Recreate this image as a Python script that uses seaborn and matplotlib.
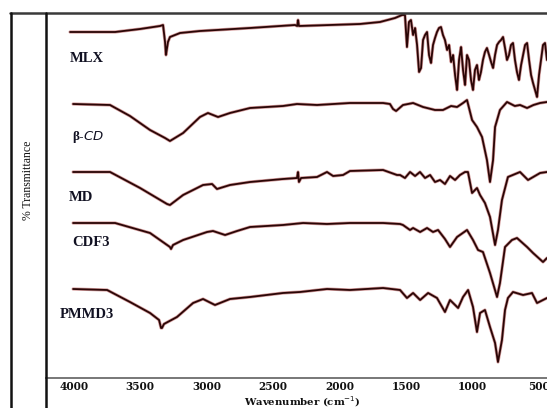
import numpy as np
import pandas as pd
import matplotlib
matplotlib.use("Agg")
import matplotlib.pyplot as plt
import matplotlib.patheffects as pe
from matplotlib.lines import Line2D
import seaborn as sns

# FTIR spectra (wavenumber in cm^-1, stacked transmittance in arbitrary units)
mlx_wn = [4028, 3689, 3501, 3351, 3328, 3313, 3306, 3291, 3276, 3200,
          3050, 2673, 2335, 2318, 2312, 2305, 2071, 1846, 1695, 1582,
          1529, 1507, 1492, 1477, 1462, 1446, 1431, 1416, 1401, 1386,
          1371, 1356, 1341, 1326, 1311, 1296, 1281, 1266, 1251, 1236,
          1221, 1206, 1190, 1175, 1160, 1145, 1130, 1115, 1100, 1085,
          1070, 1055, 1040, 1025, 1010, 995, 980, 965, 950, 935,
          920, 905, 890, 874, 859, 844, 829, 814, 799, 784,
          769, 754, 739, 724, 709, 694, 679, 664, 649, 633,
          618, 603, 588, 573, 558, 543, 528, 513, 498, 483,
          468, 453, 438]
mlx_t = [345, 345, 348, 351, 352, 335, 322, 335, 340, 344,
         346, 349, 352, 351, 357, 351, 352, 353, 355, 359,
         362, 362, 330, 355, 357, 342, 349, 332, 305, 309,
         337, 342, 345, 322, 314, 332, 339, 345, 349, 350,
         342, 337, 327, 332, 315, 322, 302, 287, 317, 330,
         307, 292, 322, 317, 297, 287, 307, 312, 297, 305,
         317, 325, 329, 322, 315, 309, 322, 332, 335, 337,
         340, 329, 317, 322, 332, 334, 317, 305, 297, 312,
         322, 332, 334, 317, 302, 294, 287, 280, 302, 317,
         332, 334, 317]

bcd_wn = [4005, 3727, 3577, 3426, 3313, 3276, 3177, 3050, 2990, 2914,
          2824, 2673, 2425, 2320, 2169, 1921, 1672, 1620, 1597, 1574,
          1522, 1446, 1371, 1281, 1221, 1160, 1115, 1070, 1040, 1002,
          965, 927, 890, 867, 844, 829, 792, 739, 680, 641,
          588, 540, 490, 438]
bcd_t = [273, 272, 261, 247, 239, 236, 244, 260, 264, 260,
         264, 269, 271, 273, 272, 274, 274, 273, 268, 266,
         272, 274, 270, 267, 267, 271, 270, 274, 277, 257,
         250, 240, 217, 195, 217, 250, 267, 275, 271, 272,
         269, 272, 274, 275]

md_wn = [4005, 3727, 3501, 3298, 3276, 3177, 3027, 2959, 2922, 2824,
         2673, 2425, 2320, 2312, 2305, 2289, 2169, 2094, 2048, 1973,
         1921, 1672, 1567, 1544, 1507, 1469, 1431, 1394, 1356, 1318,
         1281, 1243, 1206, 1168, 1130, 1093, 1055, 1033, 1002, 965,
         942, 905, 867, 829, 807, 777, 732, 641, 581, 490,
         438]
md_t = [205, 205, 189, 173, 172, 182, 192, 193, 188, 192,
        195, 198, 199, 205, 195, 199, 200, 205, 201, 202,
        206, 207, 202, 202, 199, 205, 201, 205, 199, 202,
        195, 197, 193, 201, 197, 202, 205, 205, 184, 189,
        182, 174, 160, 132, 147, 177, 200, 205, 197, 204,
        205]

cdf_wn = [4005, 3689, 3426, 3276, 3268, 3253, 3177, 2997, 2952, 2861,
          2771, 2673, 2425, 2274, 2094, 1921, 1672, 1544, 1522, 1469,
          1446, 1393, 1341, 1296, 1258, 1206, 1168, 1115, 1040, 995,
          957, 920, 867, 814, 792, 754, 702, 664, 588, 543,
          468, 438]
cdf_t = [154, 154, 144, 130, 128, 132, 137, 145, 146, 142,
         146, 150, 152, 154, 153, 154, 154, 153, 152, 147,
         149, 145, 149, 145, 147, 138, 130, 140, 147, 137,
         127, 125, 104, 80, 94, 130, 137, 139, 130, 124,
         115, 119]

pm_wn = [4005, 3749, 3577, 3426, 3358, 3343, 3336, 3321, 3223, 3102,
         3027, 2937, 2824, 2673, 2425, 2297, 2094, 1921, 1672, 1544,
         1492, 1446, 1393, 1333, 1266, 1206, 1168, 1107, 1070, 1032,
         995, 965, 942, 905, 867, 829, 807, 777, 754, 732,
         694, 618, 551, 513, 468, 438]
pm_t = [88, 87, 75, 64, 57, 49, 49, 53, 60, 74,
        78, 72, 78, 80, 84, 85, 88, 87, 89, 87,
        79, 84, 77, 84, 79, 65, 77, 69, 80, 87,
        70, 45, 64, 67, 50, 34, 15, 37, 67, 79,
        85, 82, 84, 74, 77, 79]

samples = ["MLX", "β-CD", "MD", "CDF3", "PMMD3"]
x_ticks = [4000, 3500, 3000, 2500, 2000, 1500, 1000, 500]

series = {
    "MLX": (mlx_wn, mlx_t),
    "β-CD": (bcd_wn, bcd_t),
    "MD": (md_wn, md_t),
    "CDF3": (cdf_wn, cdf_t),
    "PMMD3": (pm_wn, pm_t),
}
frames = []
for name in samples:
    wn, t = series[name]
    frames.append(pd.DataFrame({"wavenumber": wn, "T": t, "sample": name}))
df = pd.concat(frames, ignore_index=True)

sns.set_theme(style="white")
W, H = 547, 408
fig = plt.figure(figsize=(W / 100, H / 100), dpi=100)
fig.patch.set_facecolor("white")

def fx(px):
    return px / W

def fy(py):
    return 1 - py / H

ax = fig.add_axes([fx(46), fy(378), fx(547) - fx(46), fy(13) - fy(378)])
ax.set_facecolor("white")

line_col = "#2a0606"
sns.lineplot(data=df, x="wavenumber", y="T", units="sample", estimator=None,
             sort=False, color=line_col, linewidth=1.3, ax=ax, legend=False)
for ln in ax.lines:
    ln.set_path_effects([pe.Stroke(linewidth=2.3, foreground="#b04a4a", alpha=0.55),
                         pe.Normal()])

ax.set_xlim(4209, 438)
ax.set_ylim(-1, 364)
ax.set_xticks(x_ticks)
ax.set_xticklabels([str(v) for v in x_ticks], fontfamily="DejaVu Serif",
                   fontweight="bold", fontsize=7.6, color="#111111")
ax.set_yticks([])
ax.tick_params(axis="x", length=0, pad=2.5)
ax.set_xlabel("Wavenumber (cm$^{-1}$)", fontfamily="DejaVu Serif",
              fontweight="bold", fontsize=7.3, color="#111111", va="center")
ax.xaxis.set_label_coords((302 - 46) / 501, -(401.5 - 378) / 365)
ax.set_ylabel("")
for side in ["left", "top", "right"]:
    ax.spines[side].set_visible(False)
ax.spines["bottom"].set_color("#777777")
ax.spines["bottom"].set_linewidth(1.4)

# outer frame: label panel on the left, top rule
fig.add_artist(Line2D([fx(10), fx(547)], [fy(13), fy(13)], color="#3a3a3a", lw=1.8))
fig.add_artist(Line2D([fx(11), fx(11)], [fy(13), fy(408)], color="#111111", lw=1.8))
fig.add_artist(Line2D([fx(46), fx(46)], [fy(13), fy(408)], color="#111111", lw=1.8))

fig.text(fx(28), fy(180), "% Transmittance", rotation=90, ha="center", va="center",
         fontfamily="Liberation Serif", fontsize=8.5, color="#111111")

label_pos = {
    "MLX": (87, 59),
    "β-CD": (88, 137),
    "MD": (81, 197),
    "CDF3": (91, 242),
    "PMMD3": (87, 314),
}
for name in samples:
    px, py = label_pos[name]
    if name == "β-CD":
        fig.text(fx(px), fy(py), "β-$\\mathit{CD}$", ha="center", va="center",
                 fontfamily="Liberation Serif", fontweight="bold", fontsize=9.5,
                 color="#111122")
    else:
        fig.text(fx(px), fy(py), name, ha="center", va="center",
                 fontfamily="Liberation Serif", fontweight="bold", fontsize=10.5,
                 color="#111122")

fig.savefig("out.png", dpi=100, facecolor="white")
